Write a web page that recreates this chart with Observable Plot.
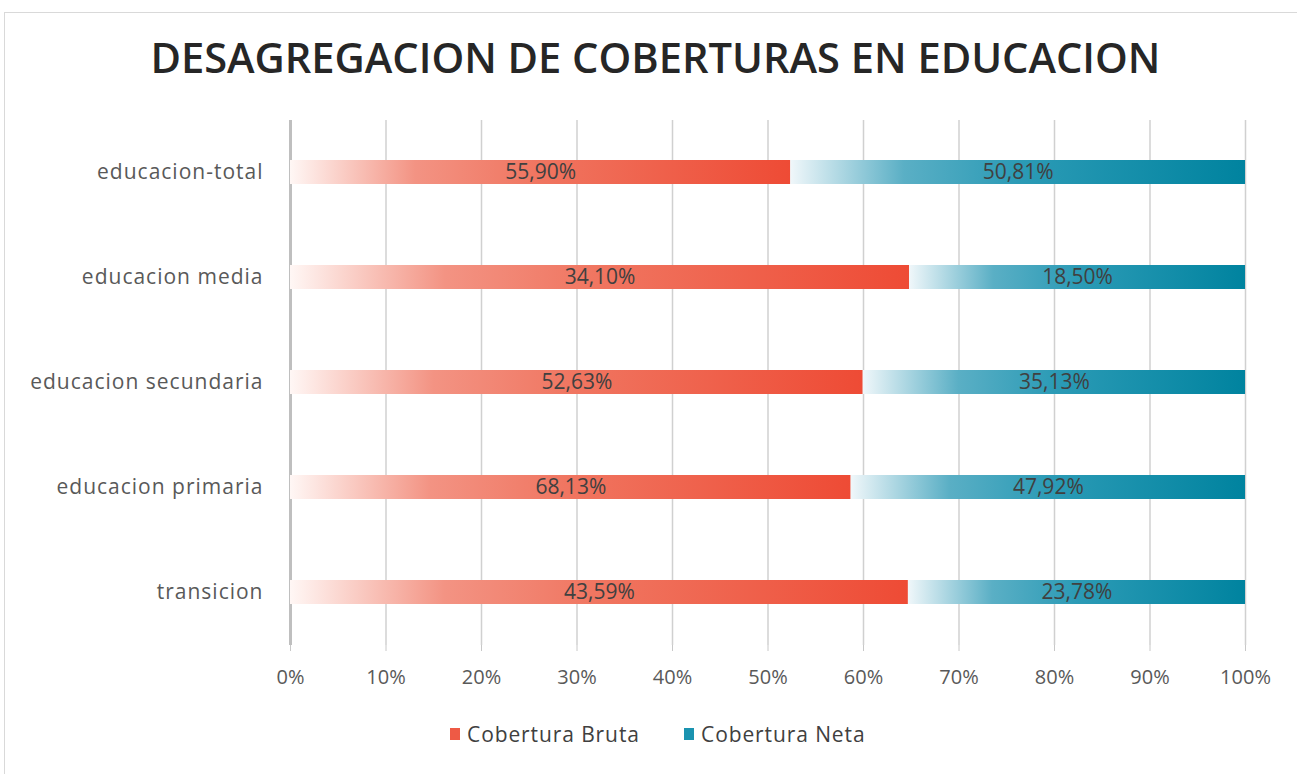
<!DOCTYPE html>
<html>
<head>
<meta charset="utf-8">
<script src="https://cdn.jsdelivr.net/npm/d3@7"></script>
<script src="https://cdn.jsdelivr.net/npm/@observablehq/plot@0.6"></script>
<style>
  html, body { margin: 0; padding: 0; background: #fff; }
  #frame { position: absolute; left: 4px; top: 12px; width: 1300px; height: 770px; border: 1px solid #d9d9d9; box-sizing: border-box; }
  #title { position: absolute; left: 0; top: 29px; width: 1310px; text-align: center; font-family: "Open Sans", sans-serif; font-weight: 600; font-size: 41px; color: #262626; white-space: nowrap; }
  #title span { display: inline-block; transform-origin: center; }
  #chart { position: absolute; left: 0; top: 110px; }
  #legend { position: absolute; top: 720px; left: 0; width: 1297px; font-family: "Open Sans", sans-serif; font-size: 21px; color: #404040; }
  .lg { position: absolute; display: flex; align-items: center; white-space: nowrap; letter-spacing: 0.9px; }
  .sw { width: 10px; height: 12px; margin-right: 7px; }
  .ylab text { letter-spacing: 1px; }
</style>
</head>
<body>
<div id="frame"></div>
<div id="title"><span>DESAGREGACION DE COBERTURAS EN EDUCACION</span></div>
<div id="chart"></div>
<div id="legend">
  <div class="lg" style="left:450px"><div class="sw" style="background:#ee5a45"></div>Cobertura Bruta</div>
  <div class="lg" style="left:684px"><div class="sw" style="background:#1a93b0"></div>Cobertura Neta</div>
</div>
<script>
const categories = ["educacion-total", "educacion media", "educacion secundaria", "educacion primaria", "transicion"];
const series = ["Cobertura Bruta", "Cobertura Neta"];
const bruta = [55.90, 34.10, 52.63, 68.13, 43.59];
const neta = [50.81, 18.50, 35.13, 47.92, 23.78];
const xTicks = [0, 0.1, 0.2, 0.3, 0.4, 0.5, 0.6, 0.7, 0.8, 0.9, 1];

const data = [];
categories.forEach((c, i) => {
  data.push({cat: c, serie: series[0], value: bruta[i]});
  data.push({cat: c, serie: series[1], value: neta[i]});
});
const fmt = v => v.toFixed(2).replace(".", ",") + "%";

function defs() {
  const d = d3.create("svg:defs");
  const gB = d.append("linearGradient").attr("id", "gradBruta").attr("x1", 0).attr("x2", 1).attr("y1", 0).attr("y2", 0);
  [[0, "#fff7f5"], [0.25, "#f39383"], [0.5, "#f07560"], [1, "#ee4b35"]].forEach(([o, c]) => gB.append("stop").attr("offset", o).attr("stop-color", c));
  const gN = d.append("linearGradient").attr("id", "gradNeta").attr("x1", 0).attr("x2", 1).attr("y1", 0).attr("y2", 0);
  [[0, "#f0f7fa"], [0.25, "#5aafc5"], [0.5, "#2c9bb6"], [1, "#00839f"]].forEach(([o, c]) => gN.append("stop").attr("offset", o).attr("stop-color", c));
  return d.node();
}

const plot = Plot.plot({
  width: 1297,
  height: 590,
  marginLeft: 290,
  marginRight: 52,
  marginTop: 10,
  marginBottom: 55,
  style: {fontFamily: "Open Sans, sans-serif", background: "transparent"},
  x: {domain: [0, 1], label: null},
  y: {domain: categories, paddingInner: 0.77, paddingOuter: 0.385, label: null},
  color: {type: "ordinal", domain: series, range: ["url(#gradBruta)", "url(#gradNeta)"]},
  marks: [
    defs,
    Plot.ruleX(xTicks.slice(1), {stroke: "#d0d0d0", strokeWidth: 1.5}),
    Plot.ruleX([0], {stroke: "#bfbfbf", strokeWidth: 3}),
    Plot.barX(data, Plot.stackX({x: "value", y: "cat", fill: "serie", offset: "normalize", order: series, insetLeft: 0, insetRight: 0})),
    Plot.text(data, Plot.stackX({x: "value", y: "cat", z: "serie", offset: "normalize", order: series, text: d => fmt(d.value), fill: "#404040", fontSize: 21})),
    Plot.axisX({ticks: xTicks, tickFormat: d => Math.round(d * 100) + "%", tickSize: 6, tickPadding: 18, stroke: "#c8c8c8", color: "#595959", fontSize: 20, label: null}),
    Plot.axisY({className: "ylab", tickSize: 0, tickPadding: 27, color: "#595959", fontSize: 21, label: null})
  ]
});
document.getElementById("chart").appendChild(plot);

const span = document.querySelector("#title span");
const w = span.getBoundingClientRect().width;
span.style.transform = `scaleX(${1010 / w})`;
</script>
</body>
</html>
